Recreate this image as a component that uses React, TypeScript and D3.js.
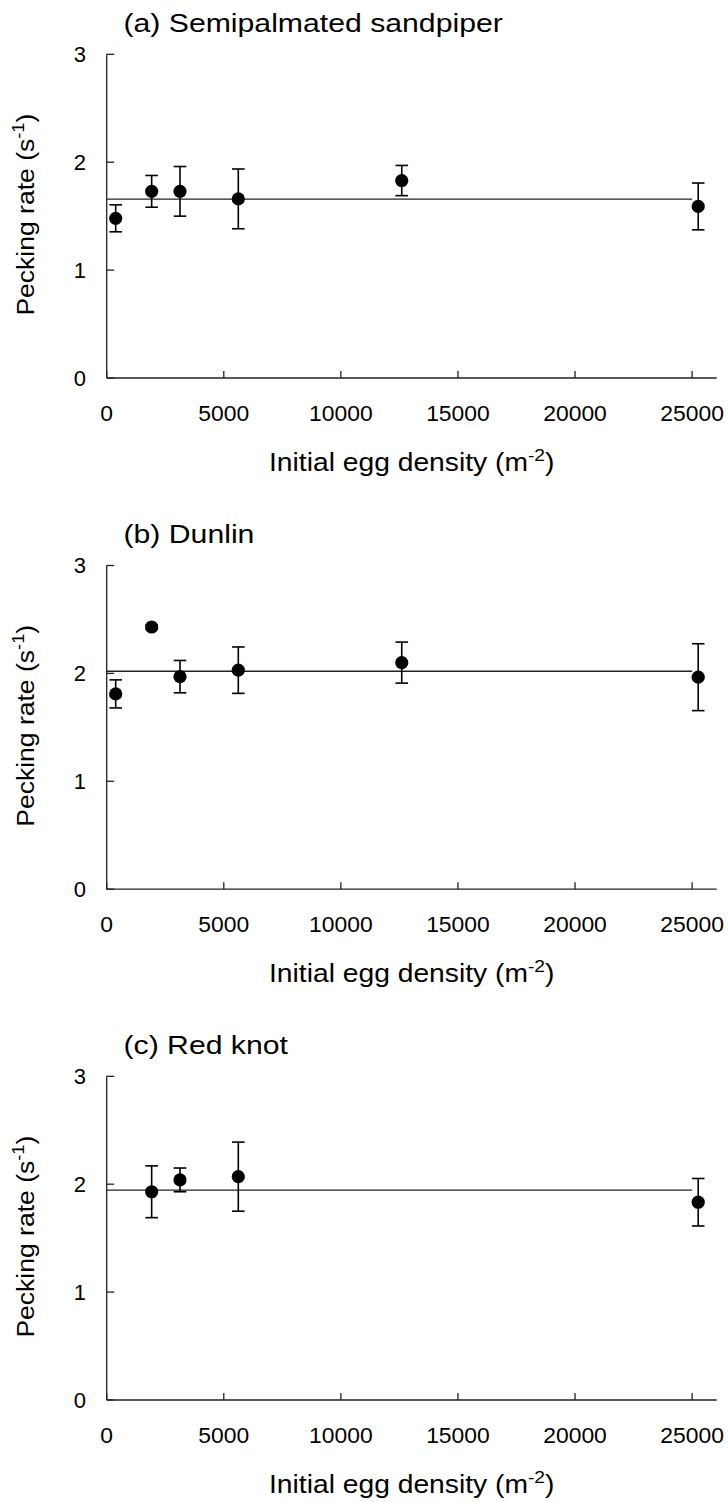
import React from "react";
import * as d3 from "d3";

// ---- Data ----
const panelTitles = ["(a) Semipalmated sandpiper", "(b) Dunlin", "(c) Red knot"];

const densityA = [384, 1920, 3130, 5620, 12600, 25260];
const rateA = [1.48, 1.73, 1.73, 1.66, 1.83, 1.59];
const errA = [0.125, 0.147, 0.23, 0.277, 0.14, 0.217];
const fitA = 1.658;

const densityB = [384, 1920, 3130, 5620, 12600, 25260];
const rateB = [1.81, 2.43, 1.97, 2.03, 2.1, 1.965];
const errB = [0.13, 0.02, 0.15, 0.215, 0.19, 0.31];
const fitB = 2.02;

const densityC = [1920, 3130, 5620, 25260];
const rateC = [1.93, 2.04, 2.07, 1.833];
const errC = [0.24, 0.11, 0.32, 0.22];
const fitC = 1.945;

const fitRange = [0, 25000];

const xTicks = [0, 5000, 10000, 15000, 20000, 25000];
const yTicks = [0, 1, 2, 3];
const xDomain = [0, 26050];
const yDomain = [0, 3];

const panels = [
  { title: panelTitles[0], x: densityA, y: rateA, e: errA, fit: fitA },
  { title: panelTitles[1], x: densityB, y: rateB, e: errB, fit: fitB },
  { title: panelTitles[2], x: densityC, y: rateC, e: errC, fit: fitC },
];

const FONT = "'Liberation Sans', Arial, Helvetica, sans-serif";

function Panel({ p, top }: { p: any; top: number }) {
  const left = 106.7;
  const right = 716.7;
  const height = 323.7;
  const x = d3.scaleLinear().domain(xDomain).range([left, right]);
  const y = d3.scaleLinear().domain(yDomain).range([top + height, top]);
  const y0 = y(0);
  const axisColor = "#222";
  const capW = 6.3;
  return (
    <g>
      <g transform={`translate(123.5,${top - 22.5}) scale(1.18,1)`}>
        <text x={0} y={0} fontSize={25.6} fontFamily={FONT} fill="#000">
          {p.title}
        </text>
      </g>
      {/* axes */}
      <line x1={left} x2={left} y1={y(3)} y2={y0} stroke={axisColor} strokeWidth={1.3} />
      <line x1={left} x2={right} y1={y0} y2={y0} stroke={axisColor} strokeWidth={1.3} />
      {yTicks.map((t) => (
        <g key={"yt" + t}>
          <line x1={left} x2={left + 7.5} y1={y(t)} y2={y(t)} stroke={axisColor} strokeWidth={1.3} />
          <text x={86} y={y(t)} dy="0.36em" textAnchor="end" fontSize={22} fontFamily={FONT} fill="#000">
            {t}
          </text>
        </g>
      ))}
      {xTicks.map((t) => (
        <g key={"xt" + t}>
          <line x1={x(t)} x2={x(t)} y1={y0} y2={y0 - 7} stroke={axisColor} strokeWidth={1.3} />
          <g transform={`translate(${x(t)},${y0 + 43}) scale(1.04,1)`}>
            <text x={0} y={0} textAnchor="middle" fontSize={22} fontFamily={FONT} fill="#000">
              {t}
            </text>
          </g>
        </g>
      ))}
      {/* axis titles */}
      <g transform={`translate(${(left + right) / 2},${y0 + 93}) scale(1.13,1)`}>
        <text x={0} y={0} textAnchor="middle" fontSize={25} fontFamily={FONT} fill="#000">
          Initial egg density (m
          <tspan fontSize={17} dy={-10}>-2</tspan>
          <tspan dy={10}>)</tspan>
        </text>
      </g>
      <g transform={`translate(34.3,${(y(3) + y0) / 2 - 1.5}) rotate(-90) scale(1.07,1)`}>
        <text x={0} y={0} textAnchor="middle" fontSize={24.8} fontFamily={FONT} fill="#000">
          Pecking rate (s
          <tspan fontSize={17} dy={-10}>-1</tspan>
          <tspan dy={10}>)</tspan>
        </text>
      </g>
      {/* fitted line */}
      <line
        x1={x(fitRange[0])}
        x2={x(fitRange[1])}
        y1={y(p.fit)}
        y2={y(p.fit)}
        stroke="#222"
        strokeWidth={1.4}
      />
      {/* error bars and points */}
      {p.x.map((xv: number, i: number) => {
        const cx = x(xv);
        const yt = y(p.y[i] + p.e[i]);
        const yb = y(p.y[i] - p.e[i]);
        return (
          <g key={"pt" + i}>
            <line x1={cx} x2={cx} y1={yt} y2={yb} stroke="#000" strokeWidth={1.6} />
            <line x1={cx - capW} x2={cx + capW} y1={yt} y2={yt} stroke="#000" strokeWidth={1.6} />
            <line x1={cx - capW} x2={cx + capW} y1={yb} y2={yb} stroke="#000" strokeWidth={1.6} />
            <circle cx={cx} cy={y(p.y[i])} r={6.6} fill="#000" />
          </g>
        );
      })}
    </g>
  );
}

export default function App() {
  const tops = [54.3, 565.5, 1076.3];
  return (
    <svg
      width={728}
      height={1502}
      viewBox="0 0 728 1502"
      style={{ position: "absolute", left: 0, top: 0, background: "#fff" }}
    >
      <rect width={728} height={1502} fill="#fff" />
      {panels.map((p, i) => (
        <Panel key={i} p={p} top={tops[i]} />
      ))}
    </svg>
  );
}
